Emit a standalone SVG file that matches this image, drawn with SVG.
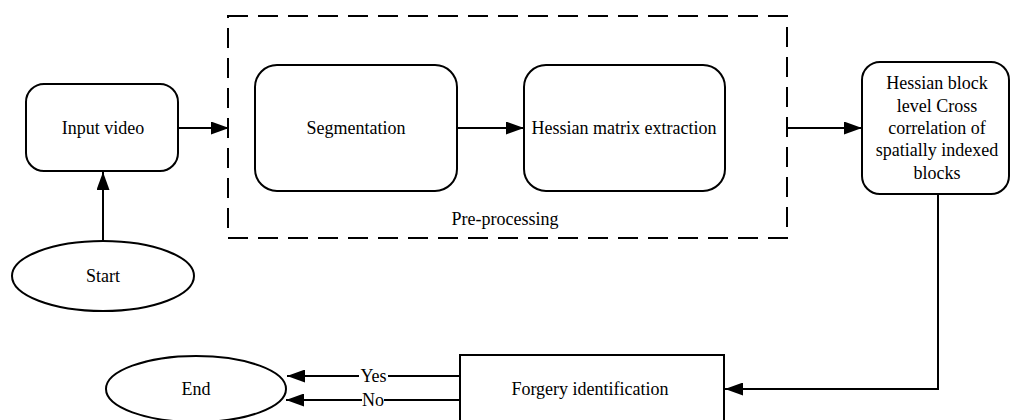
<svg xmlns="http://www.w3.org/2000/svg" width="1011" height="420" viewBox="0 0 1011 420">
  <defs>
    <marker id="arrow" viewBox="0 0 18 13" refX="18" refY="6.5" markerWidth="18" markerHeight="13" markerUnits="userSpaceOnUse" orient="auto">
      <path d="M0,0 L18,6.5 L0,13 Z" fill="#000"/>
    </marker>
    <style>
      .box { fill: #fff; stroke: #000; stroke-width: 2; }
      .group { fill: none; stroke: #000; stroke-width: 2; stroke-dasharray: 20 10; }
      .edge { fill: none; stroke: #000; stroke-width: 2; }
      .arrow { marker-end: url(#arrow); }
      .label { font-family: "Liberation Serif", "Times New Roman", serif; font-size: 18px; fill: #000; text-anchor: middle; }
    </style>
  </defs>
  <rect width="1011" height="420" fill="#fff"/>

  <!-- Pre-processing stage container -->
  <g id="preprocessing">
    <rect class="group" x="228" y="16" width="559" height="222"/>
    <text class="label" x="505" y="225">Pre-processing</text>
  </g>

  <g id="connectors">
    <line class="edge arrow" x1="103" y1="241" x2="103" y2="172"/>
    <line class="edge arrow" x1="178" y1="128" x2="229" y2="128"/>
    <line class="edge arrow" x1="457" y1="128" x2="524" y2="128"/>
    <line class="edge arrow" x1="787" y1="128" x2="862" y2="128"/>
    <polyline class="edge arrow" points="938,194 938,389 725,389"/>
    <!-- Yes / No branches back to End -->
    <line class="edge" x1="460" y1="376" x2="388" y2="376"/>
    <line class="edge arrow" x1="359" y1="376" x2="287" y2="376"/>
    <line class="edge" x1="460" y1="400" x2="384" y2="400"/>
    <line class="edge arrow" x1="362" y1="400" x2="286" y2="400"/>
    <text class="label" x="373.5" y="382">Yes</text>
    <text class="label" x="373" y="406">No</text>
  </g>

  <g id="start">
    <ellipse class="box" cx="103" cy="276" rx="91" ry="35"/>
    <text class="label" x="103" y="282">Start</text>
  </g>

  <g id="input-video">
    <rect class="box" x="26" y="84" width="152" height="87" rx="18"/>
    <text class="label" x="103" y="134">Input video</text>
  </g>

  <g id="segmentation">
    <rect class="box" x="255" y="65" width="202" height="126" rx="22"/>
    <text class="label" x="356" y="134">Segmentation</text>
  </g>

  <g id="hessian-matrix">
    <rect class="box" x="524" y="65" width="201" height="126" rx="22"/>
    <text class="label" x="624" y="134">Hessian matrix extraction</text>
  </g>

  <g id="cross-correlation">
    <rect class="box" x="862" y="62" width="147" height="132" rx="18"/>
    <text class="label" x="937" y="89">Hessian block</text>
    <text class="label" x="937" y="112">level Cross</text>
    <text class="label" x="937" y="134">correlation of</text>
    <text class="label" x="937" y="156">spatially indexed</text>
    <text class="label" x="937" y="179">blocks</text>
  </g>

  <g id="forgery-identification">
    <rect class="box" x="460" y="355" width="264" height="70"/>
    <text class="label" x="590" y="395">Forgery identification</text>
  </g>

  <g id="end">
    <ellipse class="box" cx="196" cy="389" rx="90" ry="33"/>
    <text class="label" x="196" y="395">End</text>
  </g>
</svg>
